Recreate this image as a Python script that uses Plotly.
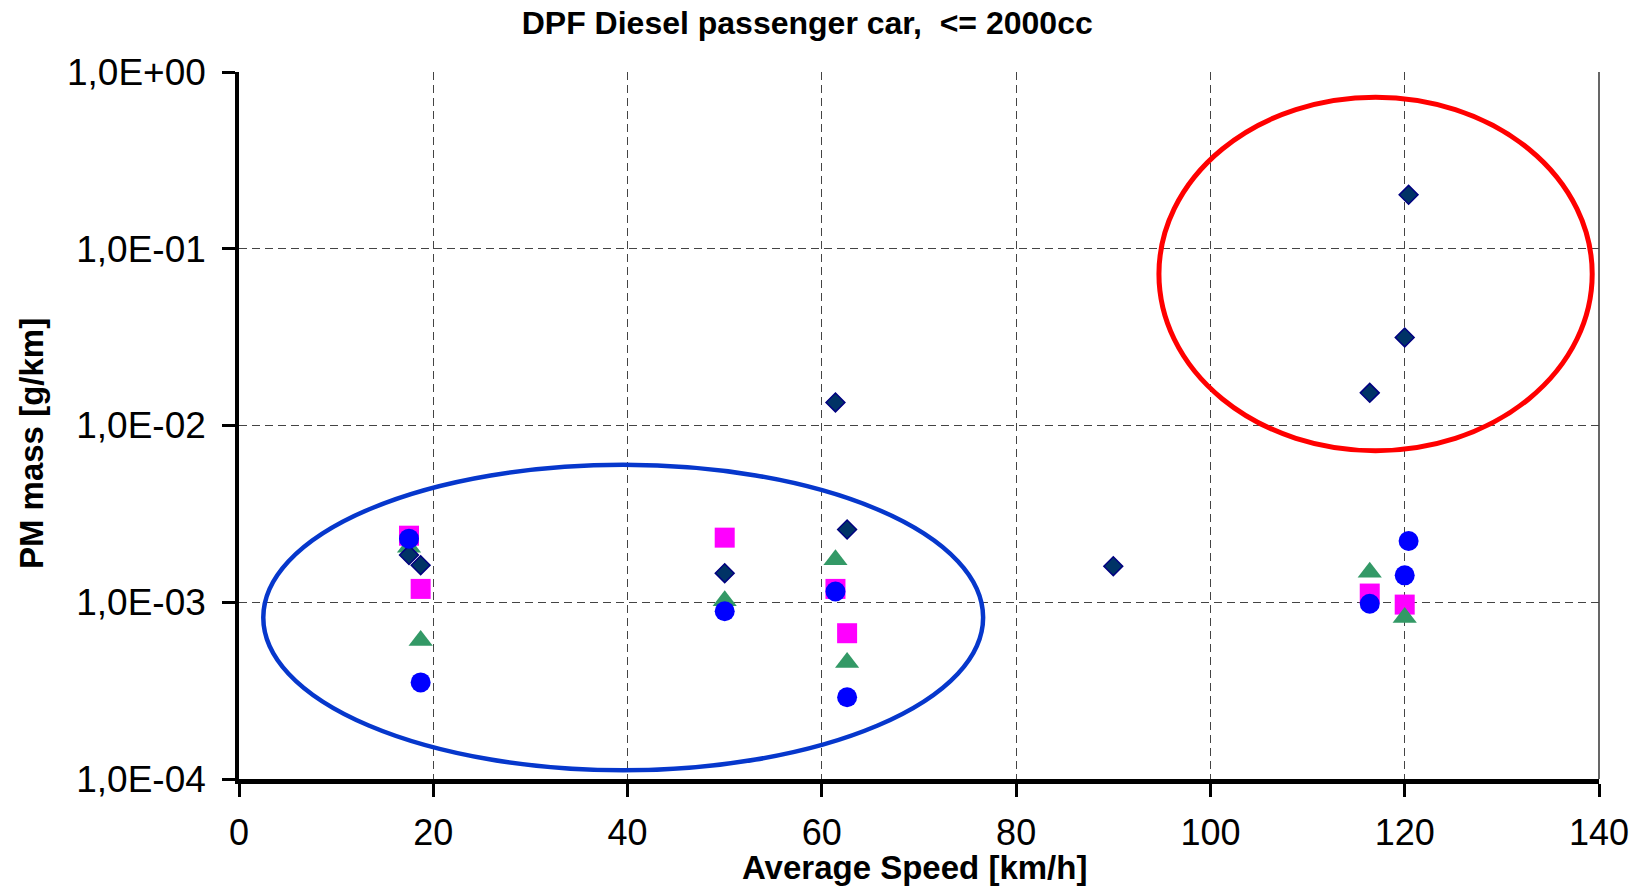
import plotly.graph_objects as go

# ---- data ----
diamond_x = [17.5, 18.7, 50.0, 61.4, 62.6, 90.0, 116.4, 120.0, 120.4]
diamond_y = [1.85e-3, 1.62e-3, 1.46e-3, 1.35e-2, 2.58e-3, 1.60e-3, 1.53e-2, 3.15e-2, 2.02e-1]

square_x = [17.5, 18.7, 50.0, 61.4, 62.6, 116.4, 120.0]
square_y = [2.38e-3, 1.19e-3, 2.32e-3, 1.19e-3, 6.68e-4, 1.12e-3, 9.7e-4]

triangle_x = [17.5, 18.7, 50.0, 61.4, 62.6, 116.4, 120.0]
triangle_y = [2.05e-3, 6.07e-4, 1.02e-3, 1.74e-3, 4.56e-4, 1.48e-3, 8.2e-4]

circle_x = [17.5, 18.7, 50.0, 61.4, 62.6, 116.4, 120.0, 120.4]
circle_y = [2.29e-3, 3.52e-4, 8.9e-4, 1.15e-3, 2.90e-4, 9.8e-4, 1.42e-3, 2.22e-3]

y_tickvals = [1e-4, 1e-3, 1e-2, 1e-1, 1]
y_ticktext = ["1,0E-04", "1,0E-03", "1,0E-02", "1,0E-01", "1,0E+00"]
x_tickvals = [0, 20, 40, 60, 80, 100, 120, 140]

# highlight ellipses: (x0, x1, y0, y1) in data units
blue_ellipse = (2.5, 76.6, 1.12e-4, 6.0e-3)
red_ellipse = (94.7, 139.3, 7.2e-3, 0.72)

FONT = "Liberation Sans, Arial, sans-serif"

fig = go.Figure()
fig.add_trace(go.Scatter(x=square_x, y=square_y, mode="markers", name="square",
                         marker=dict(symbol="square", size=20, color="#ff00ff", line=dict(width=0))))
fig.add_trace(go.Scatter(x=triangle_x, y=triangle_y, mode="markers", name="triangle",
                         marker=dict(symbol="triangle-up", size=21, color="#339966", line=dict(width=0))))
fig.add_trace(go.Scatter(x=diamond_x, y=diamond_y, mode="markers", name="diamond",
                         marker=dict(symbol="diamond", size=14.5, color="#003366",
                                     line=dict(width=1.5, color="#000080"))))
fig.add_trace(go.Scatter(x=circle_x, y=circle_y, mode="markers", name="circle",
                         marker=dict(symbol="circle", size=20, color="#0000ff", line=dict(width=0))))

def ell(b, color, w):
    x0, x1, y0, y1 = b
    return dict(type="circle", xref="x", yref="y", x0=x0, x1=x1, y0=y0, y1=y1,
                line=dict(color=color, width=w), fillcolor="rgba(0,0,0,0)", layer="above")

fig.add_shape(ell(blue_ellipse, "#0637cc", 4.5))
fig.add_shape(ell(red_ellipse, "#ff0000", 5))
# right frame edge
fig.add_shape(type="line", xref="paper", yref="paper", x0=1, x1=1, y0=0, y1=1,
              line=dict(color="black", width=1.2), layer="below")

fig.update_layout(
    width=1644, height=887,
    margin=dict(l=239, r=45, t=72, b=108),
    paper_bgcolor="white", plot_bgcolor="white",
    showlegend=False,
    font=dict(family=FONT, color="black"),
    title=dict(text="<b>DPF Diesel passenger car,  &lt;= 2000cc</b>",
               font=dict(family=FONT, size=32, color="black"),
               x=0.491, xref="container", xanchor="center",
               y=1 - 23 / 887, yref="container", yanchor="middle"),
    xaxis=dict(range=[0, 140], tickvals=x_tickvals, showgrid=True,
               gridcolor="#444444", griddash="8px,5px", gridwidth=1,
               showline=True, linecolor="black", linewidth=5,
               ticks="outside", ticklen=13, tickwidth=3, tickcolor="black",
               tickfont=dict(size=36, family=FONT, color="black"),
               ticklabelstandoff=5, zeroline=False),
    yaxis=dict(type="log", range=[-4, 0], tickvals=y_tickvals, ticktext=y_ticktext,
               showgrid=True, gridcolor="#444444", griddash="8px,5px", gridwidth=1,
               showline=True, linecolor="black", linewidth=3.5,
               ticks="outside", ticklen=13, tickwidth=3, tickcolor="black",
               tickfont=dict(size=37, family=FONT, color="black"),
               ticklabelstandoff=9, zeroline=False),
    annotations=[
        dict(text="<b>Average Speed [km/h]</b>", xref="paper", yref="paper",
             x=0.497, y=-0.125, xanchor="center", yanchor="middle", showarrow=False,
             font=dict(family=FONT, size=33, color="black")),
        dict(text="<b>PM mass [g/km]</b>", xref="paper", yref="paper",
             x=-0.153, y=0.475, xanchor="center", yanchor="middle", showarrow=False,
             textangle=-90, font=dict(family=FONT, size=33, color="black")),
    ],
)

fig.write_html("out.html")
